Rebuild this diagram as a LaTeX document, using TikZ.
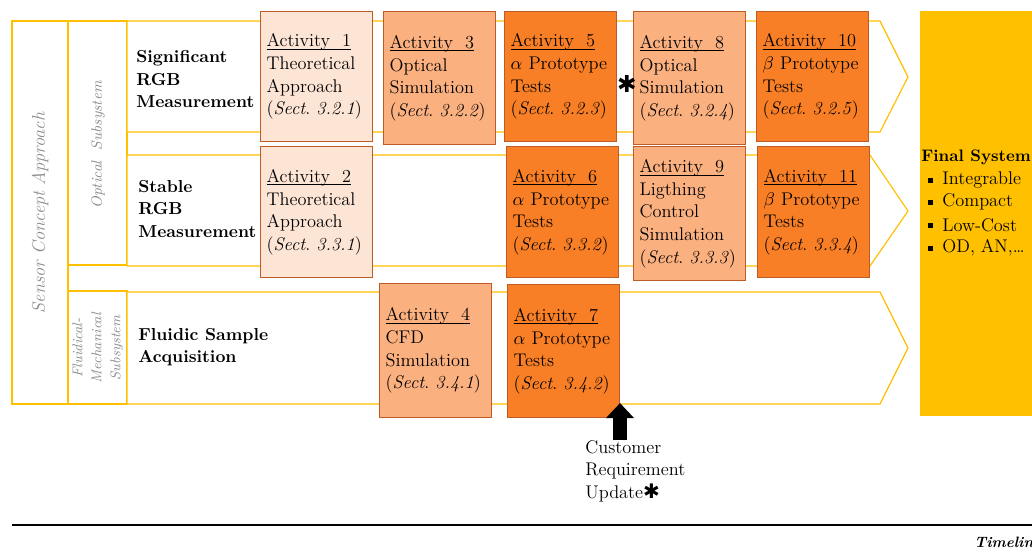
\documentclass[tikz,border=0pt]{standalone}
\usepackage{fontspec}
\newfontfamily\starfont{DejaVu Sans}
\usetikzlibrary{arrows.meta}

\definecolor{bandyellow}{HTML}{FFC000}
\definecolor{actborder}{HTML}{BF5B24}
\definecolor{actlight}{HTML}{FDE5D6}
\definecolor{actmid}{HTML}{FBB080}
\definecolor{actdark}{HTML}{F97F26}
\definecolor{sidegray}{HTML}{8C8C8C}

\newcommand{\acthead}[1]{\underline{\smash{Activity\ \ #1}}\vphantom{A}\\}
\newcommand{\actsect}[1]{\mbox{(\textit{Sect}.\ \textit{#1})}}

\begin{document}
\begin{tikzpicture}[x=0.6pt, y=-0.6pt]
      \tikzstyle{every node}=[font=\fontsize{11}{13.6}\selectfont]
      \tikzstyle{band}=[draw=bandyellow, line width=0.7pt, fill=white]
      \tikzstyle{act}=[draw=actborder, line width=0.8pt, anchor=north west,
        inner xsep=3.6pt, inner ysep=0pt, text width=60pt, align=left,
        minimum height=78pt]
      \tikzstyle{side}=[rotate=90, text=sidegray, align=center]
      \tikzstyle{rowtitle}=[anchor=west, align=left, inner sep=0pt,
        font=\fontsize{10.4}{13.4}\selectfont\bfseries]

      \useasboundingbox (0,0) rectangle (1032,552);

      % subsystem frames
      \draw[band] (12,21) rectangle (68,404);
      \draw[band] (68,21) rectangle (127,265);
      \draw[band] (68,291) rectangle (127,404);

      % row bands
      \draw[band] (127,21) -- (880,21) -- (908,77) -- (880,132) -- (127,132) -- cycle;
      \draw[band] (127,155) -- (870,155) -- (908,211) -- (870,266) -- (127,266) -- cycle;
      \draw[band] (127,292) -- (880,292) -- (908,348) -- (880,404) -- (127,404) -- cycle;

      \path (40,213) node[side, font=\fontsize{11}{13.2}\selectfont\itshape] (sensor)
        {Sensor Concept Approach};
      \path (98,145) node[side, font=\fontsize{9}{11}\selectfont\itshape] (optical)
        {Optical\ \ Subsystem};
      \path (98,348) node[side, font=\fontsize{8.5}{11.4}\selectfont\itshape] (fluidical)
        {Fluidical-\\Mechanical\\Subsystem};

      \path (136,79) node[rowtitle] (rgb1) {Significant\\RGB\\Measurement};
      \path (138,209) node[rowtitle] (rgb2) {Stable\\RGB\\Measurement};
      \path (138,347) node[rowtitle] (fluidic) {Fluidic Sample\\Acquisition};

      % activities
      \path (260,11) node[act, fill=actlight] (a1)
        {\acthead{1}Theoretical\\Approach\\\actsect{3.2.1}};
      \path (383,11) node[act, fill=actmid, minimum height=79.8pt] (a3)
        {\acthead{3}Optical\\Simulation\\\actsect{3.2.2}};
      \path (504,11) node[act, fill=actdark] (a5)
        {\acthead{5}\mbox{$\alpha$ Prototype}\\Tests\\\actsect{3.2.3}};
      \path (633,11) node[act, fill=actmid, minimum height=79.8pt] (a8)
        {\acthead{8}Optical\\Simulation\\\actsect{3.2.4}};
      \path (756,11) node[act, fill=actdark] (a10)
        {\acthead{10}\mbox{$\beta$ Prototype}\\Tests\\\actsect{3.2.5}};

      \path (260,146) node[act, fill=actlight, minimum height=78.6pt] (a2)
        {\acthead{2}Theoretical\\Approach\\\actsect{3.3.1}};
      \path (506,146) node[act, fill=actdark, minimum height=78.6pt] (a6)
        {\acthead{6}\mbox{$\alpha$ Prototype}\\Tests\\\actsect{3.3.2}};
      \path (633,146) node[act, fill=actmid, minimum height=80.4pt] (a9)
        {\acthead{9}Ligthing\\Control\\Simulation\\\actsect{3.3.3}};
      \path (757,146) node[act, fill=actdark, minimum height=78.6pt] (a11)
        {\acthead{11}\mbox{$\beta$ Prototype}\\Tests\\\actsect{3.3.4}};

      \path (379,283) node[act, fill=actmid, minimum height=80.4pt] (a4)
        {\acthead{4}CFD\\Simulation\\\actsect{3.4.1}};
      \path (507,284) node[act, fill=actdark, minimum height=79.8pt] (a7)
        {\acthead{7}\mbox{$\alpha$ Prototype}\\Tests\\\actsect{3.4.2}};

      \path (627,84) node[font=\fontsize{14}{14}\selectfont\starfont] (star) {✱};

      % final system
      \path (920,11) node[fill=bandyellow, anchor=north west, inner sep=0pt,
        minimum width=75pt, minimum height=243pt] (final) {};
      \path (921,157) node[anchor=west, inner sep=0pt,
        font=\fontsize{10}{12}\selectfont\bfseries] (finaltitle) {Final System};
      \foreach \y/\txt in {180/Integrable, 202/Compact, 225/Low-Cost, 248/{OD, AN,\ldots}}
      {
        \fill (927.5,\y-2.5) rectangle (932.5,\y+2.5);
        \path (942,\y) node[anchor=west, inner sep=0pt] {\txt};
      }

      % customer requirement update
      \coordinate (updbase) at (620,440);
      \coordinate (updtip) at (620,403);
      \draw[line width=8.4pt, -{Triangle[width=16.2pt, length=9pt]}] (updbase) -- (updtip);
      \path (585,471) node[anchor=west, align=left, inner sep=0pt] (update)
        {Customer\\Requirement\\Update{\starfont\fontsize{12}{12}\selectfont ✱}};

      % timeline
      \coordinate (tstart) at (12,525);
      \coordinate (tend) at (1032,525);
      \draw[line width=1.5pt] (tstart) -- (tend);
      \path (974,542) node[anchor=west, inner sep=0pt,
        font=\fontsize{9}{11}\selectfont\bfseries\itshape] (timeline) {Timeline};
\end{tikzpicture}
\end{document}
